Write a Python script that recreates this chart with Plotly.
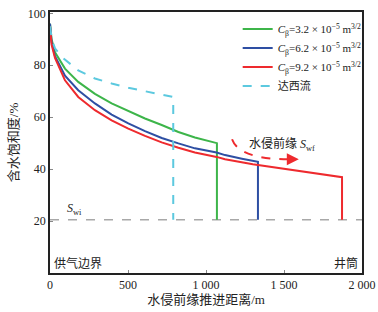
import plotly.graph_objects as go

# ---- data ----
swi = 20.5
green_x = [0, 10, 32, 96, 181, 288, 395, 502, 609, 716, 823, 929, 1070, 1070]
green_y = [96, 90, 85, 78.7, 73.6, 69, 65.3, 62.3, 59.5, 57, 54.3, 52.2, 50, swi]

blue_x = [0, 10, 32, 96, 181, 288, 395, 502, 609, 716, 823, 929, 1068, 1122, 1230, 1333, 1333]
blue_y = [96, 89, 83.5, 76, 70.4, 65.3, 61, 57.6, 54.6, 52, 49.9, 48, 46.4, 45.4, 44.0, 42.8, swi]

red_x = [0, 10, 32, 96, 181, 288, 395, 502, 609, 716, 823, 929, 1068, 1122, 1300, 1500, 1700, 1872, 1872]
red_y = [95, 88, 82.8, 74.2, 67.8, 62.7, 58.8, 55.6, 52.8, 50.3, 48.2, 46.4, 44.7, 43.8, 41.9, 40.2, 38.6, 36.9, swi]

cyan_x = [0, 12, 32, 75, 181, 288, 395, 502, 609, 700, 790, 790]
cyan_y = [95, 90, 86.5, 83.2, 78, 74.9, 73, 71.3, 70, 69, 67.8, swi]

swi_x = [0, 2000]
x_ticks = [0, 500, 1000, 1500, 2000]
x_tick_labels = ["0", "500", "1 000", "1 500", "2 000"]
y_ticks = [20, 40, 60, 80, 100]

names = [
    "<i>C</i><sub>β</sub>=3.2 × 10<sup>−5</sup> m<sup>3/2</sup>",
    "<i>C</i><sub>β</sub>=6.2 × 10<sup>−5</sup> m<sup>3/2</sup>",
    "<i>C</i><sub>β</sub>=9.2 × 10<sup>−5</sup> m<sup>3/2</sup>",
    "达西流",
]

FONT = "Liberation Serif, Times New Roman, Noto Sans CJK SC, serif"
GREEN, BLUE, RED, CYAN, GRAY = "#3DB54A", "#2E4FA3", "#EE2A2E", "#5CC9DF", "#A8A8A8"

fig = go.Figure()
fig.add_trace(go.Scatter(x=swi_x, y=[swi, swi], mode="lines", showlegend=False,
                         line=dict(color=GRAY, width=1.5, dash="dash"), hoverinfo="skip"))
fig.add_trace(go.Scatter(x=green_x, y=green_y, mode="lines", name=names[0],
                         line=dict(color=GREEN, width=2)))
fig.add_trace(go.Scatter(x=blue_x, y=blue_y, mode="lines", name=names[1],
                         line=dict(color=BLUE, width=2)))
fig.add_trace(go.Scatter(x=red_x, y=red_y, mode="lines", name=names[2],
                         line=dict(color=RED, width=2)))
fig.add_trace(go.Scatter(x=cyan_x, y=cyan_y, mode="lines", name=names[3],
                         line=dict(color=CYAN, width=2, dash="dash")))

# dashed curved arrow for water-invasion front
fig.add_shape(type="path", path="M 1167,51.5 Q 1215,43.5 1560,43.8", xref="x", yref="y",
              line=dict(color=RED, width=2, dash="dash"))
fig.add_annotation(x=1595, y=43.8, ax=1540, ay=43.8, xref="x", yref="y", axref="x", ayref="y",
                   text="", showarrow=True, arrowhead=2, arrowsize=1.2, arrowwidth=2, arrowcolor=RED)

fig.add_annotation(x=1263, y=49.5, xref="x", yref="y", text="水侵前缘 <i>S</i><sub>wf</sub>",
                   showarrow=False, xanchor="left", font=dict(size=12))
fig.add_annotation(x=96, y=24.5, xref="x", yref="y", text="<i>S</i><sub>wi</sub>",
                   showarrow=False, xanchor="left", font=dict(size=12))
fig.add_annotation(x=15, y=3.5, xref="x", yref="y", text="供气边界",
                   showarrow=False, xanchor="left", font=dict(size=12))
fig.add_annotation(x=1985, y=3.5, xref="x", yref="y", text="井筒",
                   showarrow=False, xanchor="right", font=dict(size=12))

fig.update_layout(
    width=378, height=312,
    margin=dict(l=50, r=16, t=12, b=39, autoexpand=False),
    paper_bgcolor="white", plot_bgcolor="white",
    font=dict(family=FONT, size=12, color="#222"),
    showlegend=True,
    legend=dict(x=1.015, y=0.99, xanchor="right", yanchor="top", bgcolor="rgba(0,0,0,0)",
                font=dict(size=11), itemwidth=30, tracegroupgap=0),
    xaxis=dict(range=[0, 2000], tickvals=x_ticks, ticktext=x_tick_labels, automargin=False,
               showgrid=False, zeroline=False, showline=True, linecolor="#222", linewidth=1.5,
               mirror=True, ticks="inside", ticklen=3, tickcolor="#888",
               title=dict(text="水侵前缘推进距离/m", font=dict(size=13), standoff=4)),
    yaxis=dict(range=[0, 100.5], tickvals=y_ticks, automargin=False,
               showgrid=False, zeroline=False, showline=True, linecolor="#222", linewidth=1.5,
               mirror=True, ticks="inside", ticklen=3, tickcolor="#888",
               title=dict(text="含水饱和度/%", font=dict(size=13), standoff=6)),
)

fig.write_html("out.html", config={"displayModeBar": False},
               post_script="document.body.style.margin='0';")
